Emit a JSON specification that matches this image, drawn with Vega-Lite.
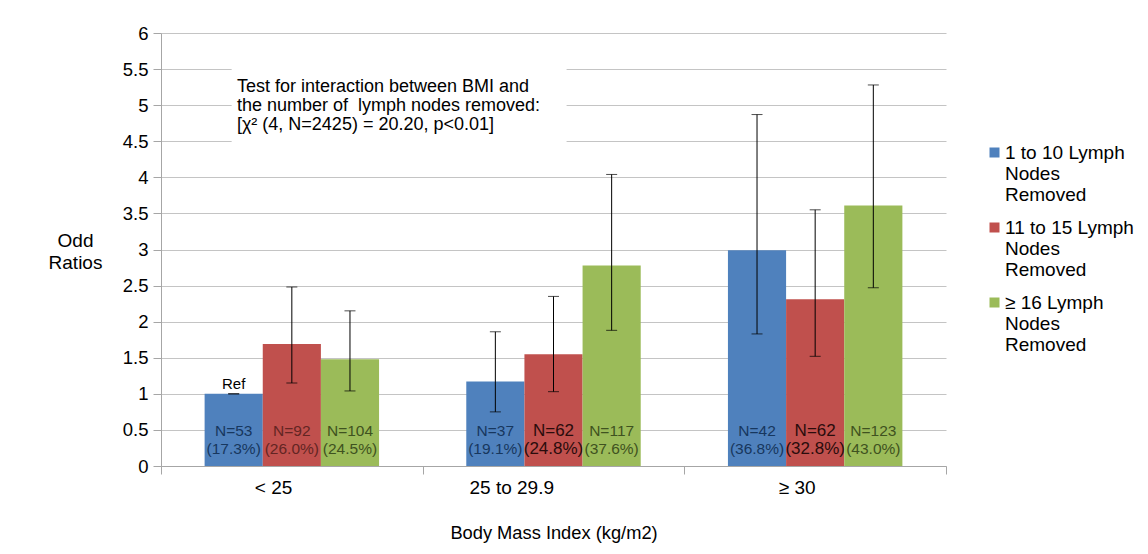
{
  "$schema": "https://vega.github.io/schema/vega-lite/v6.json",
  "width": 785,
  "height": 433,
  "autosize": {"type": "none"},
  "padding": {"left": 161, "top": 33, "right": 202, "bottom": 88},
  "background": "white",
  "config": {
    "font": "Liberation Sans",
    "view": {"stroke": null},
    "axisY": {
      "tickCount": 12,
      "format": "~g",
      "labelFontSize": 18.5,
      "labelColor": "#000",
      "labelPadding": 5,
      "tickSize": 8,
      "tickColor": "#a6a6a6",
      "domainColor": "#a6a6a6",
      "gridColor": "#c4c4c4",
      "grid": true,
      "titleAngle": 0,
      "titleX": -86,
      "titleY": 207,
      "titleAlign": "center",
      "titleBaseline": "middle",
      "titleFontSize": 19,
      "titleLineHeight": 22,
      "titleFontWeight": "normal",
      "titleColor": "#000"
    },
    "legend": {
      "orient": "none",
      "legendX": 824,
      "legendY": 110,
      "title": null,
      "symbolType": "square",
      "symbolSize": 100,
      "labelFontSize": 19,
      "labelColor": "#000",
      "labelLimit": 220,
      "labelBaseline": "middle",
      "labelOffset": 1,
      "rowPadding": 13
    }
  },
  "layer": [
    {
      "data": {"values": [{}]},
      "mark": {"type": "rect", "fill": "white"},
      "encoding": {
        "x": {"datum": "< 25", "bandPosition": 0.27},
        "x2": {"datum": "25 to 29.9", "bandPosition": 0.55},
        "y": {"datum": 4.42},
        "y2": {"datum": 5.58}
      }
    },
    {
      "data": {"values": [{}]},
      "mark": {
        "type": "text",
        "text": ["Test for interaction between BMI and", "the number of\u00a0 lymph nodes removed:", "[χ² (4, N=2425) = 20.20, p<0.01]"],
        "align": "left",
        "baseline": "middle",
        "fontSize": 18,
        "lineHeight": 18.7,
        "color": "#000"
      },
      "encoding": {
        "x": {"datum": "< 25", "bandPosition": 0.29},
        "y": {"datum": 5.25}
      }
    },
    {
      "data": {
        "values": [
          {"bmi": "< 25", "grp": "1 to 10 Lymph Nodes Removed", "or": 1.0, "lo": 1.0, "hi": 1.0, "nlab": "N=53", "pct": "(17.3%)"},
          {"bmi": "< 25", "grp": "11 to 15 Lymph Nodes Removed", "or": 1.69, "lo": 1.15, "hi": 2.48, "nlab": "N=92", "pct": "(26.0%)"},
          {"bmi": "< 25", "grp": "≥ 16 Lymph Nodes Removed", "or": 1.48, "lo": 1.04, "hi": 2.15, "nlab": "N=104", "pct": "(24.5%)"},
          {"bmi": "25 to 29.9", "grp": "1 to 10 Lymph Nodes Removed", "or": 1.17, "lo": 0.75, "hi": 1.86, "nlab": "N=37", "pct": "(19.1%)"},
          {"bmi": "25 to 29.9", "grp": "11 to 15 Lymph Nodes Removed", "or": 1.55, "lo": 1.03, "hi": 2.35, "nlab": "N=62", "pct": "(24.8%)"},
          {"bmi": "25 to 29.9", "grp": "≥ 16 Lymph Nodes Removed", "or": 2.78, "lo": 1.88, "hi": 4.04, "nlab": "N=117", "pct": "(37.6%)"},
          {"bmi": "≥ 30", "grp": "1 to 10 Lymph Nodes Removed", "or": 2.99, "lo": 1.83, "hi": 4.87, "nlab": "N=42", "pct": "(36.8%)"},
          {"bmi": "≥ 30", "grp": "11 to 15 Lymph Nodes Removed", "or": 2.31, "lo": 1.52, "hi": 3.55, "nlab": "N=62", "pct": "(32.8%)"},
          {"bmi": "≥ 30", "grp": "≥ 16 Lymph Nodes Removed", "or": 3.61, "lo": 2.47, "hi": 5.28, "nlab": "N=123", "pct": "(43.0%)"}
        ]
      },
      "encoding": {
        "x": {
          "field": "bmi",
          "type": "nominal",
          "sort": ["< 25", "25 to 29.9", "≥ 30"],
          "scale": {"paddingInner": 0, "paddingOuter": 0},
          "axis": {
            "title": "Body Mass Index (kg/m2)",
            "labelAngle": 0,
            "labelFontSize": 19,
            "labelColor": "#000",
            "titleFontSize": 18.3,
            "titleFontWeight": "normal",
            "titleColor": "#000",
            "tickBand": "extent",
            "tickSize": 8,
            "tickColor": "#a6a6a6",
            "domainColor": "#a6a6a6",
            "labelPadding": 13,
            "titlePadding": 27,
            "grid": false
          }
        },
        "xOffset": {
          "field": "grp",
          "type": "nominal",
          "sort": ["1 to 10 Lymph Nodes Removed", "11 to 15 Lymph Nodes Removed", "≥ 16 Lymph Nodes Removed"],
          "scale": {"paddingInner": 0, "paddingOuter": 0.75}
        }
      },
      "layer": [
        {
          "mark": {"type": "bar"},
          "encoding": {
            "y": {
              "field": "or",
              "type": "quantitative",
              "scale": {"domain": [0, 6], "nice": false},
              "title": ["Odd", "Ratios"]
            },
            "color": {
              "field": "grp",
              "type": "nominal",
              "sort": ["1 to 10 Lymph Nodes Removed", "11 to 15 Lymph Nodes Removed", "≥ 16 Lymph Nodes Removed"],
              "scale": {"range": ["#4F81BD", "#C0504D", "#9BBB59"]},
              "legend": {
                "labelExpr": "datum.label == '1 to 10 Lymph Nodes Removed' ? ['1 to 10 Lymph', 'Nodes', 'Removed'] : datum.label == '11 to 15 Lymph Nodes Removed' ? ['11 to 15 Lymph', 'Nodes', 'Removed'] : ['≥ 16 Lymph', 'Nodes', 'Removed']",
                "encoding": {"labels": {"update": {"lineHeight": {"value": 22}}}}
              }
            }
          }
        },
        {
          "mark": {"type": "rule", "color": "#000", "strokeWidth": 1},
          "encoding": {
            "y": {"field": "lo", "type": "quantitative"},
            "y2": {"field": "hi"}
          }
        },
        {
          "mark": {"type": "tick", "color": "#000", "size": 11, "thickness": 1},
          "encoding": {"y": {"field": "lo", "type": "quantitative"}}
        },
        {
          "mark": {"type": "tick", "color": "#000", "size": 11, "thickness": 1},
          "encoding": {"y": {"field": "hi", "type": "quantitative"}}
        },
        {
          "transform": [{"filter": "datum.bmi == '< 25' && datum.grp == '1 to 10 Lymph Nodes Removed'"}],
          "mark": {"type": "text", "text": "Ref", "baseline": "bottom", "fontSize": 15, "color": "#000", "dy": -2},
          "encoding": {"y": {"datum": 1.0}}
        },
        {
          "mark": {"type": "text", "baseline": "middle", "fontSize": 15.5},
          "encoding": {
            "y": {"datum": 0.485},
            "text": {"field": "nlab"},
            "size": {
              "condition": {"test": "datum.nlab == 'N=62'", "value": 17},
              "value": 15.5
            },
            "color": {
              "condition": [
                {"test": "datum.nlab == 'N=62'", "value": "#2a0c0c"},
                {"test": "datum.grp == '1 to 10 Lymph Nodes Removed'", "value": "#17375E"},
                {"test": "datum.grp == '11 to 15 Lymph Nodes Removed'", "value": "#632523"}
              ],
              "value": "#3F5220"
            }
          }
        },
        {
          "mark": {"type": "text", "baseline": "middle", "fontSize": 15.5},
          "encoding": {
            "y": {"datum": 0.24},
            "text": {"field": "pct"},
            "size": {
              "condition": {"test": "datum.nlab == 'N=62'", "value": 17},
              "value": 15.5
            },
            "color": {
              "condition": [
                {"test": "datum.nlab == 'N=62'", "value": "#2a0c0c"},
                {"test": "datum.grp == '1 to 10 Lymph Nodes Removed'", "value": "#17375E"},
                {"test": "datum.grp == '11 to 15 Lymph Nodes Removed'", "value": "#632523"}
              ],
              "value": "#3F5220"
            }
          }
        }
      ]
    }
  ]
}
